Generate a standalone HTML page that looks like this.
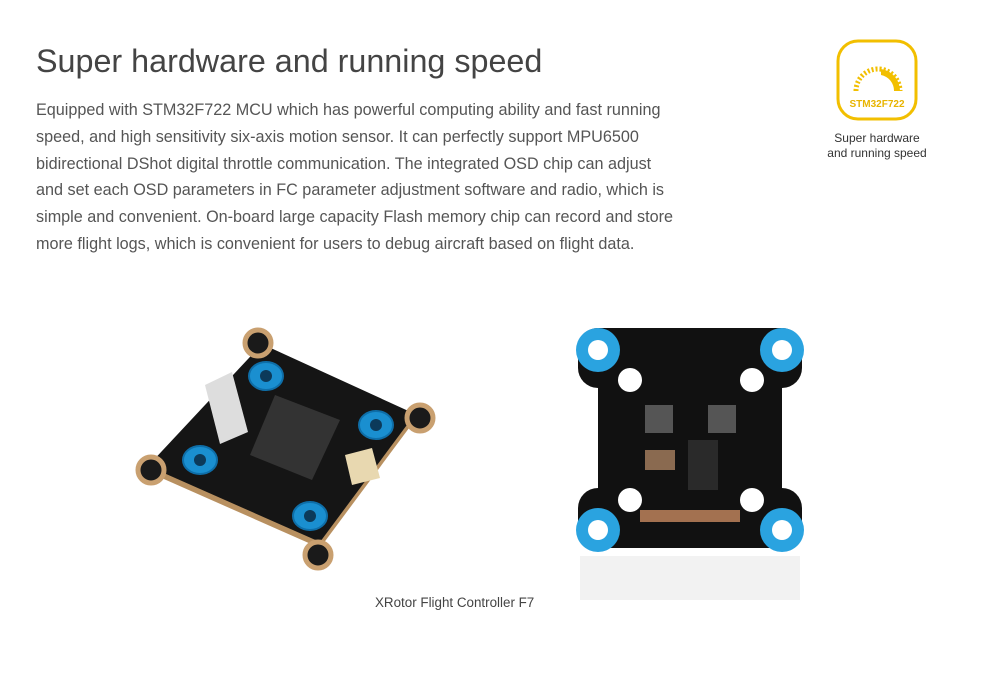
<!DOCTYPE html>
<html><head><style>
body{margin:0;width:990px;height:684px;background:#fff;font-family:"Liberation Sans",sans-serif;position:relative;overflow:hidden}
h1{position:absolute;left:36px;top:43px;margin:0;font-weight:normal;font-size:32.3px;color:#444;white-space:nowrap}
.p{position:absolute;left:36px;top:97px;width:700px;font-size:16.2px;line-height:26.8px;color:#555;white-space:nowrap}
.cap{position:absolute;left:812px;top:131px;width:130px;text-align:center;font-size:12px;color:#333;line-height:15px}
.lbl{position:absolute;left:375px;top:595px;font-size:13.4px;color:#444}
</style></head><body>
<h1>Super hardware and running speed</h1>
<div class="p">Equipped with STM32F722 MCU which has powerful computing ability and fast running<br>speed, and high sensitivity six-axis motion sensor. It can perfectly support MPU6500<br>bidirectional DShot digital throttle communication. The integrated OSD chip can adjust<br>and set each OSD parameters in FC parameter adjustment software and radio, which is<br>simple and convenient. On-board large capacity Flash memory chip can record and store<br>more flight logs, which is convenient for users to debug aircraft based on flight data.</div>
<svg style="position:absolute;left:836px;top:39px" width="82" height="82">
<rect x="2" y="2" width="78" height="78" rx="20" fill="#fff" stroke="#f2bf00" stroke-width="3"/>
<path d="M20 52 A22 22 0 0 1 64 52" fill="none" stroke="#f2bf00" stroke-width="5" stroke-dasharray="2 2"/>
<path d="M45 30 A22 22 0 0 1 64 52 L58 52 A16 16 0 0 0 45 36Z" fill="#f2bf00"/>
<text x="41" y="68" text-anchor="middle" font-size="10" font-weight="bold" fill="#e8b400">STM32F722</text>
</svg>
<div class="cap">Super hardware<br>and running speed</div>
<svg style="position:absolute;left:0;top:0" width="990" height="684">
<polygon points="262,350 415,420 320,548 148,472" fill="#b89060"/>
<polygon points="262,344 415,414 320,542 148,466" fill="#151515"/>
<polygon points="275,395 340,420 312,480 250,455" fill="#333"/>
<polygon points="205,385 232,372 248,432 220,444" fill="#ddd"/>
<polygon points="345,455 372,448 380,478 352,485" fill="#e8d8b0"/>
<g fill="#1a1a1a" stroke="#c9a070" stroke-width="5"><circle cx="258" cy="343" r="13"/><circle cx="420" cy="418" r="13"/><circle cx="151" cy="470" r="13"/><circle cx="318" cy="555" r="13"/></g>
<g fill="#1a8fd0" stroke="#0e6ea8" stroke-width="2"><ellipse cx="266" cy="376" rx="17" ry="14"/><ellipse cx="376" cy="425" rx="17" ry="14"/><ellipse cx="200" cy="460" rx="17" ry="14"/><ellipse cx="310" cy="516" rx="17" ry="14"/></g>
<g fill="#0c3a5a"><circle cx="266" cy="376" r="6"/><circle cx="376" cy="425" r="6"/><circle cx="200" cy="460" r="6"/><circle cx="310" cy="516" r="6"/></g>
<g>
<rect x="598" y="344" width="184" height="190" rx="8" fill="#111"/>
<rect x="578" y="328" width="224" height="60" rx="20" fill="#111"/>
<rect x="578" y="488" width="224" height="60" rx="20" fill="#111"/>
<g fill="#2aa3e0"><circle cx="598" cy="350" r="22"/><circle cx="782" cy="350" r="22"/><circle cx="598" cy="530" r="22"/><circle cx="782" cy="530" r="22"/></g>
<g fill="#fff"><circle cx="598" cy="350" r="10"/><circle cx="782" cy="350" r="10"/><circle cx="598" cy="530" r="10"/><circle cx="782" cy="530" r="10"/>
<circle cx="630" cy="380" r="12"/><circle cx="752" cy="380" r="12"/><circle cx="630" cy="500" r="12"/><circle cx="752" cy="500" r="12"/></g>
<rect x="645" y="405" width="28" height="28" fill="#555"/><rect x="708" y="405" width="28" height="28" fill="#555"/>
<rect x="688" y="440" width="30" height="50" fill="#2a2a2a"/>
<rect x="645" y="450" width="30" height="20" fill="#8a6a50"/>
<rect x="640" y="510" width="100" height="12" fill="#c88a60" opacity=".8"/>
</g>
<rect x="580" y="556" width="220" height="44" fill="#f2f2f2"/>
</svg>
<div class="lbl">XRotor Flight Controller F7</div>
</body></html>
